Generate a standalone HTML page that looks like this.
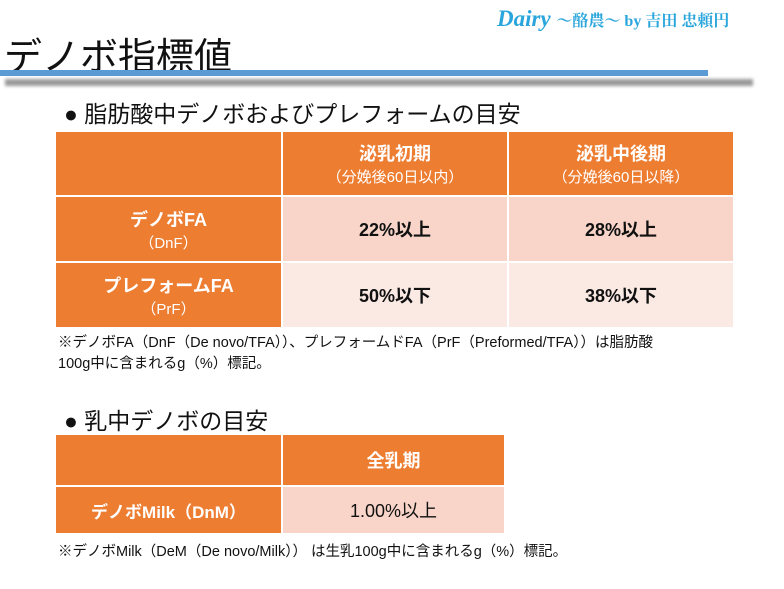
<!DOCTYPE html>
<html><head><meta charset="utf-8"><style>
body{margin:0;width:784px;height:589px;background:#fff;position:relative;overflow:hidden;font-family:"Liberation Sans","Noto Sans CJK JP",sans-serif;}
.a{position:absolute;}
table{position:absolute;border-collapse:collapse;}
td{padding:0;text-align:center;vertical-align:middle;border:2px solid #fff;}
.h{background:#ed7d31;color:#fff;font-weight:bold;}
.r1{background:#f8d5c8;color:#111;font-weight:bold;font-size:18px;}
.r2{background:#fbe9e4;color:#111;font-weight:bold;font-size:18px;}
.s{font-size:15px;font-weight:normal;}
</style></head><body>
<div class="a" style="left:497px;top:6px;color:#2aa6dc;font-size:23px;font-style:italic;font-weight:bold;font-family:'Liberation Serif','Noto Serif CJK SC',serif;white-space:nowrap;">Dairy <span style="font-size:16px;font-style:normal">～酪農～ by 吉田 忠頼円</span></div>
<div class="a" style="left:4px;top:26px;font-size:38px;color:#111;">デノボ指標値</div>
<div class="a" style="left:0;top:70px;width:708px;height:6px;background:#5b9bd5;"></div>
<div class="a" style="left:5px;top:79px;width:748px;height:7px;background:#999;filter:blur(1.5px);"></div>
<div class="a" style="left:64px;top:95px;font-size:23px;color:#111;">● 脂肪酸中デノボおよびプレフォームの目安</div>
<table style="left:54px;top:130px;">
<tr style="height:65px"><td class="h" style="width:225px"></td><td class="h" style="width:224px;font-size:18px">泌乳初期<br><span class="s">（分娩後60日以内）</span></td><td class="h" style="width:224px;font-size:18px">泌乳中後期<br><span class="s">（分娩後60日以降）</span></td></tr>
<tr style="height:66px"><td class="h" style="font-size:18px">デノボFA<br><span class="s">（DnF）</span></td><td class="r1">22%以上</td><td class="r1">28%以上</td></tr>
<tr style="height:66px"><td class="h" style="font-size:18px">プレフォームFA<br><span class="s">（PrF）</span></td><td class="r2">50%以下</td><td class="r2">38%以下</td></tr>
</table>
<div class="a" style="left:58px;top:333px;font-size:14.5px;line-height:21px;color:#111;">※デノボFA（DnF（De novo/TFA））、プレフォームドFA（PrF（Preformed/TFA））は脂肪酸<br>100g中に含まれるg（%）標記。</div>
<div class="a" style="left:64px;top:402px;font-size:23px;color:#111;">● 乳中デノボの目安</div>
<table style="left:54px;top:433px;">
<tr style="height:52px"><td class="h" style="width:225px"></td><td class="h" style="width:221px;font-size:18px">全乳期</td></tr>
<tr style="height:48px"><td class="h" style="font-size:17px">デノボMilk（DnM）</td><td class="r1" style="font-weight:normal">1.00%以上</td></tr>
</table>
<div class="a" style="left:58px;top:540px;font-size:14.5px;color:#111;">※デノボMilk（DeM（De novo/Milk）） は生乳100g中に含まれるg（%）標記。</div>
</body></html>
